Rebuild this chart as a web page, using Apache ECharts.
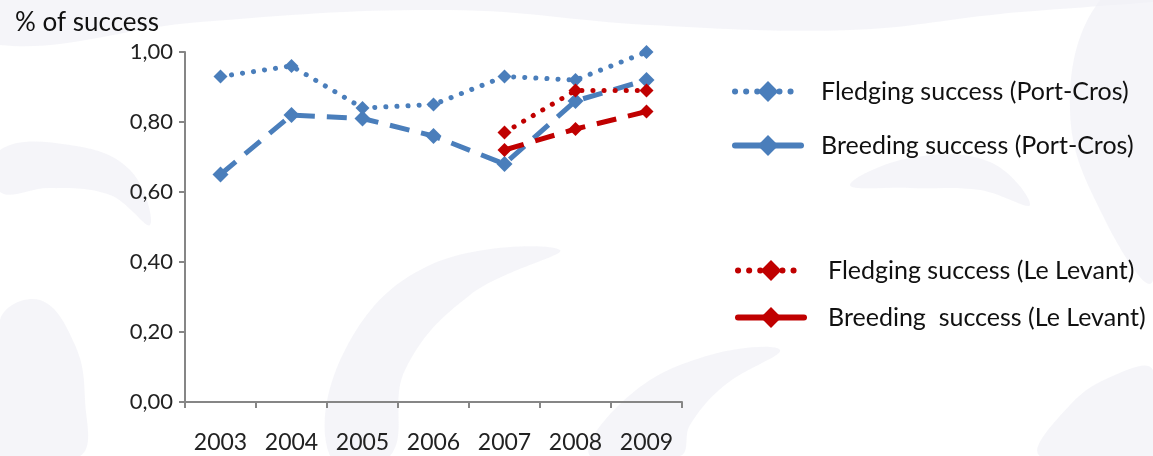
<!DOCTYPE html>
<html>
<head>
<meta charset="utf-8">
<script src="https://cdn.jsdelivr.net/npm/echarts@6/dist/echarts.min.js"></script>
<style>
  html, body { margin: 0; padding: 0; background: #ffffff; }
  #chart { width: 1153px; height: 456px; }
</style>
</head>
<body>
<div id="chart"></div>
<script>
// Seabird nesting success, Port-Cros and Le Levant islands
const years = ['2003', '2004', '2005', '2006', '2007', '2008', '2009'];
const fledgingPortCros = [0.93, 0.96, 0.84, 0.85, 0.93, 0.92, 1.00];
const breedingPortCros = [0.65, 0.82, 0.81, 0.76, 0.68, 0.86, 0.92];
const fledgingLevant = [null, null, null, null, 0.77, 0.89, 0.89];
const breedingLevant = [null, null, null, null, 0.72, 0.78, 0.83];

const seriesNames = [
  'Fledging success (Port-Cros)',
  'Breeding success (Port-Cros)',
  'Fledging success (Le Levant)',
  'Breeding  success (Le Levant)'
];

const BLUE = '#4a7ebb';
const RED = '#c00000';
const FONT = 'Lato, "Open Sans", sans-serif';
const DOTS = [0.1, 11];
const DASHES = [20, 12];

const chart = echarts.init(document.getElementById('chart'), null, { renderer: 'canvas' });

// one legend block per series, so each entry can sit at its own spot
function legendAt(name, color, dashType, left, top, gap) {
  return {
    data: [{
      name: name,
      itemStyle: { color: color },
      lineStyle: { color: color, width: 6, type: dashType, cap: 'round' }
    }],
    left: left,
    top: top,
    orient: 'vertical',
    itemWidth: 66,
    itemHeight: 26,
    selectedMode: false,
    textStyle: { fontFamily: FONT, fontSize: 25, color: '#111', padding: [0, 0, 0, gap] }
  };
}

function lineSeries(name, data, color, dashType, symbolSize, z) {
  return {
    name: name,
    type: 'line',
    data: data,
    z: z,
    symbol: 'diamond',
    symbolSize: symbolSize,
    showSymbol: true,
    connectNulls: false,
    color: color,
    itemStyle: { color: color },
    lineStyle: { color: color, width: 5, type: dashType, cap: dashType === DOTS ? 'round' : 'butt' },
    emphasis: { disabled: true }
  };
}

// faint lavender swirls of the page background
const swirl = '#f1f1f7';
const backdrop = [
  [[0, 0], [0, 45], [200, 22], [450, 10], [650, 25], [850, 30], [1000, 14], [1153, 0]],
  [[0, 150], [70, 145], [130, 170], [150, 225], [110, 195], [50, 188], [0, 192]],
  [[0, 320], [40, 300], [75, 345], [85, 400], [80, 456], [0, 456]],
  [[330, 456], [345, 350], [430, 265], [560, 250], [470, 295], [405, 370], [390, 456]],
  [[590, 456], [630, 395], [710, 355], [780, 350], [725, 385], [690, 425], [680, 456]],
  [[1153, 0], [1100, 0], [1070, 110], [1105, 220], [1153, 280]],
  [[1040, 456], [1070, 405], [1115, 375], [1153, 370], [1153, 456]],
  [[850, 185], [910, 158], [990, 162], [1030, 205], [980, 190], [910, 188]]
].map(pts => ({
  type: 'polygon',
  silent: true,
  z: -10,
  shape: { points: pts, smooth: 0.4 },
  style: { fill: swirl, opacity: 0.7 }
}));

chart.setOption({
  animation: false,
  backgroundColor: '#ffffff',
  graphic: backdrop,
  title: {
    text: '% of success',
    left: 10,
    top: 5,
    textStyle: { fontFamily: FONT, fontSize: 26, fontWeight: 'normal', color: '#111' }
  },
  legend: [
    legendAt(seriesNames[0], BLUE, DOTS, 727, 74, 15),
    legendAt(seriesNames[1], BLUE, 'solid', 727, 128, 15),
    legendAt(seriesNames[2], RED, DOTS, 730, 253, 19),
    legendAt(seriesNames[3], RED, 'solid', 730, 300, 19)
  ],
  grid: { left: 185, right: 471, top: 52, bottom: 54, containLabel: false },
  xAxis: {
    type: 'category',
    data: years,
    boundaryGap: true,
    axisLine: { lineStyle: { color: '#868686', width: 2 } },
    axisTick: { show: true, length: 6, lineStyle: { color: '#868686', width: 2 } },
    axisLabel: { fontFamily: FONT, fontSize: 23, color: '#222', margin: 29 }
  },
  yAxis: {
    type: 'value',
    min: 0,
    max: 1,
    interval: 0.2,
    splitLine: { show: false },
    axisLine: { show: true, lineStyle: { color: '#868686', width: 2 } },
    axisTick: { show: true, length: 6, lineStyle: { color: '#868686', width: 2 } },
    axisLabel: {
      fontFamily: FONT, fontSize: 22, color: '#222', margin: 12,
      formatter: v => v.toFixed(2).replace('.', ',')
    }
  },
  series: [
    lineSeries(seriesNames[0], fledgingPortCros, BLUE, DOTS, 14, 2),
    lineSeries(seriesNames[1], breedingPortCros, BLUE, DASHES, 16, 3),
    lineSeries(seriesNames[2], fledgingLevant, RED, DOTS, 14, 4),
    lineSeries(seriesNames[3], breedingLevant, RED, DASHES, 14, 5)
  ]
});
</script>
</body>
</html>
